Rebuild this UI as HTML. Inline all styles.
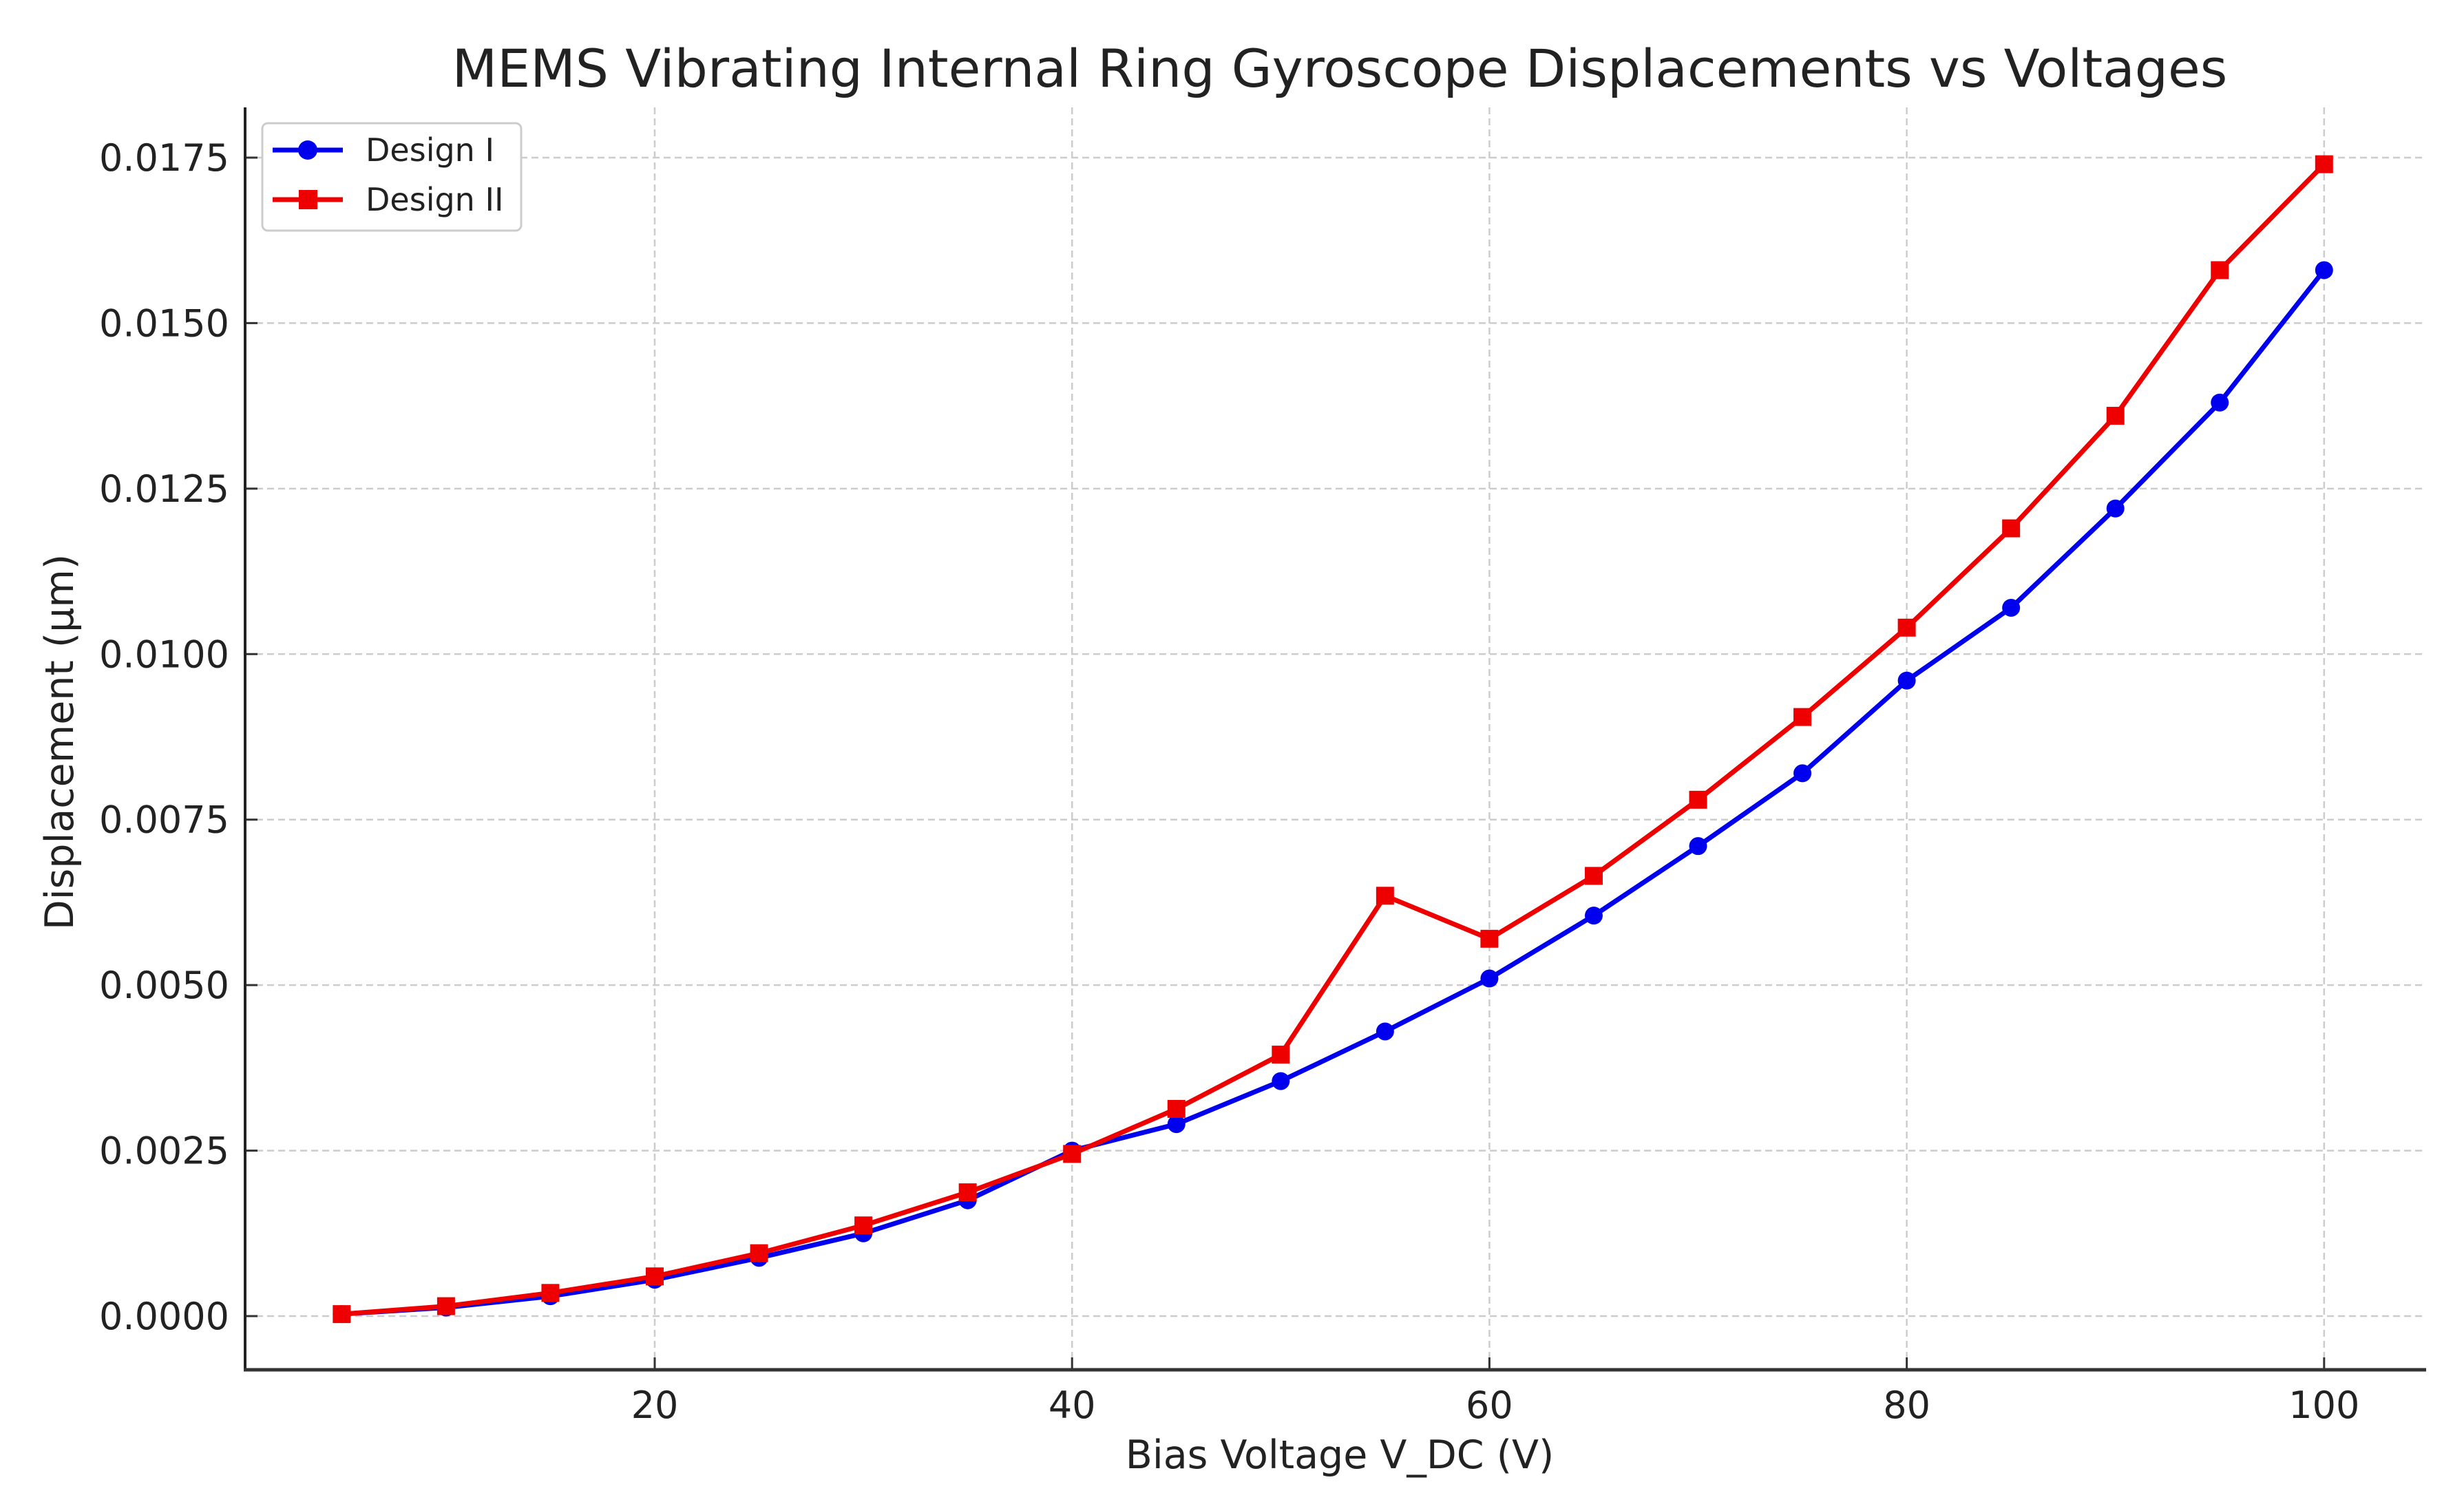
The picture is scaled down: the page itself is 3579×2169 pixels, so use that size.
<!DOCTYPE html>
<html><head><meta charset="utf-8"><style>
html,body{margin:0;padding:0;background:#fff}
svg{display:block}
text{font-family:"DejaVu Sans","Liberation Sans",sans-serif;fill:#222}
</style></head><body>
<svg width="3579" height="2169" viewBox="0 0 3579 2169" xmlns="http://www.w3.org/2000/svg">
<text x="1946" y="126" font-size="76" text-anchor="middle" fill="#333">MEMS Vibrating Internal Ring Gyroscope Displacements vs Voltages</text>
<g id="grid"></g>
<g id="axes"></g>
<g id="series"></g>
<text x="1946" y="2133" font-size="57" text-anchor="middle">Bias Voltage V_DC (V)</text>
<text transform="translate(106,1078) rotate(-90)" font-size="57" text-anchor="middle">Displacement (µm)</text>
<g>
<rect x="381" y="179" width="376" height="156" rx="8" fill="#fff" stroke="#ccc" stroke-width="3"/>
<g>
<line x1="396" y1="218" x2="498" y2="218" stroke="#0000ee" stroke-width="7"/>
<circle cx="447" cy="218" r="14" fill="#0000ee"/>
<text x="531" y="234" font-size="46" fill="#333">Design I</text></g>
<g>
<line x1="396" y1="290" x2="498" y2="290" stroke="#ee0000" stroke-width="7"/>
<rect x="434" y="276" width="27" height="28" fill="#ee0000"/>
<text x="531" y="306" font-size="46" fill="#333">Design II</text></g>
</g>
</svg>
<script>
const xValues=[5,10,15,20,25,30,35,40,45,50,55,60,65,70,75,80,85,90,95,100];
const designI=[0.00003,0.00013,0.0003,0.00055,0.00088,0.00125,0.00175,0.0025,0.0029,0.00355,0.0043,0.0051,0.00605,0.0071,0.0082,0.0096,0.0107,0.0122,0.0138,0.0158];
const designII=[0.00003,0.00015,0.00035,0.0006,0.00095,0.00137,0.00187,0.00245,0.00313,0.00395,0.00635,0.0057,0.00665,0.0078,0.00905,0.0104,0.0119,0.0136,0.0158,0.0174];
const xTicks=[20,40,60,80,100];
const yTicks=[0,0.0025,0.005,0.0075,0.01,0.0125,0.015,0.0175];
const yTickLabels=["0.0000","0.0025","0.0050","0.0075","0.0100","0.0125","0.0150","0.0175"];

const NS="http://www.w3.org/2000/svg";
const X=v=>951+(v-20)*30.31;
const Y=v=>1912-(v/0.0175)*(1912-229);
function mk(tag,attrs,parent){const e=document.createElementNS(NS,tag);for(const k in attrs)e.setAttribute(k,attrs[k]);parent.appendChild(e);return e;}
const grid=document.getElementById('grid'),axes=document.getElementById('axes'),series=document.getElementById('series');
const L=356,R=3524,T=156,B=1990;
xTicks.forEach(t=>{
  const g=mk('line',{x1:X(t),x2:X(t),y1:T,y2:B,stroke:'#ccc','stroke-width':2.5,'stroke-dasharray':'10,6'},grid);
  
  
  const tk=mk('line',{x1:X(t),x2:X(t),y1:B,y2:B-18,stroke:'#333','stroke-width':3},axes);
  
  
  const lb=mk('text',{x:X(t),y:2060,'font-size':54,'text-anchor':'middle'},axes);
  lb.textContent=t;
  
  
});
yTicks.forEach((t,i)=>{
  const g=mk('line',{x1:L,x2:R,y1:Y(t),y2:Y(t),stroke:'#ccc','stroke-width':2.5,'stroke-dasharray':'10,6'},grid);
  
  
  const tk=mk('line',{x1:L,x2:L+18,y1:Y(t),y2:Y(t),stroke:'#333','stroke-width':3},axes);
  
  
  const lb=mk('text',{x:333,y:Y(t)+19,'font-size':54,'text-anchor':'end'},axes);
  lb.textContent=yTickLabels[i];
  
  
});
const ya=mk('line',{x1:L,x2:L,y1:T,y2:B+2,stroke:'#222','stroke-width':4},axes);


const xa=mk('line',{x1:L-2,x2:R,y1:B,y2:B,stroke:'#333','stroke-width':5},axes);


function draw(vals,color,kind,name){
  const pl=mk('polyline',{points:xValues.map((x,i)=>X(x)+','+Y(vals[i])).join(' '),fill:'none',stroke:color,'stroke-width':7,'stroke-linejoin':'round'},series);
  
  
  xValues.forEach((x,i)=>{
    let m;
    if(kind==='c') m=mk('circle',{cx:X(x),cy:Y(vals[i]),r:13,fill:color},series);
    else m=mk('rect',{x:X(x)-13,y:Y(vals[i])-13,width:26,height:26,fill:color},series);
    
    
  });
}
draw(designI,'#0000ee','c','design-i');
draw(designII,'#ee0000','s','design-ii');
</script>
</body></html>
